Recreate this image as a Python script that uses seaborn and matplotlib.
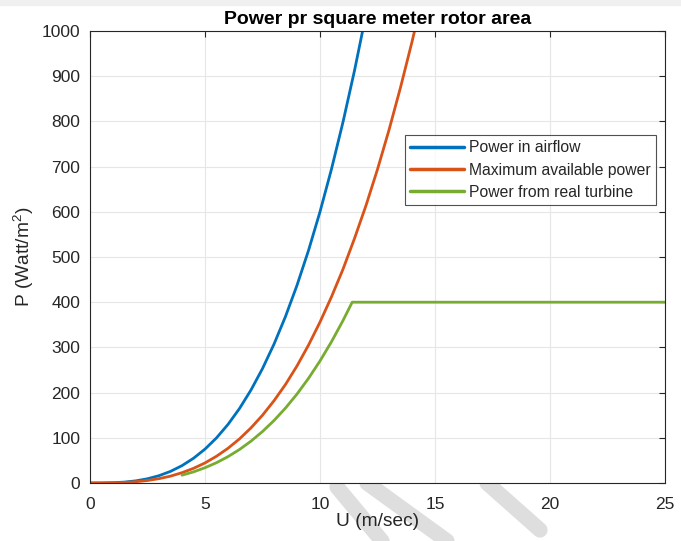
import numpy as np
import pandas as pd
import matplotlib
matplotlib.use("Agg")
import matplotlib.pyplot as plt
import seaborn as sns
from matplotlib.lines import Line2D
from matplotlib.patches import Rectangle

# values
u_air = [0, 0.5, 1, 1.5, 2, 2.5, 3, 3.5, 4, 4.5, 5, 5.5, 6, 6.5, 7, 7.5, 8,
         8.5, 9, 9.5, 10, 10.5, 11, 11.5, 12]
p_air = [0, 0.075, 0.6, 2.0, 4.8, 9.4, 16.2, 25.7, 38.4, 54.7, 75, 99.8, 129.6,
         164.8, 205.8, 253.1, 307.2, 368.4, 437.4, 514.4, 600, 694.6, 798.6,
         912.4, 1036.8]

u_max = [0, 0.5, 1, 1.5, 2, 2.5, 3, 3.5, 4, 4.5, 5, 5.5, 6, 6.5, 7, 7.5, 8,
         8.5, 9, 9.5, 10, 10.5, 11, 11.5, 12, 12.5, 13, 13.5, 14, 14.5]
p_max = [0, 0.04, 0.36, 1.2, 2.8, 5.6, 9.6, 15.2, 22.8, 32.4, 44.4, 59.2, 76.8,
         97.6, 122, 150, 182, 218, 259, 305, 356, 412, 473, 541, 614, 694,
         781, 875, 976, 1084]

u_real = [4, 4.5, 5, 5.5, 6, 6.5, 7, 7.5, 8, 8.5, 9, 9.5, 10, 10.5, 11, 11.4, 25]
p_real = [17.3, 24.6, 33.8, 44.9, 58.3, 74.1, 92.6, 113.9, 138.2, 165.8, 196.8,
          231.5, 270, 312.6, 359.4, 400, 400]

labels = ["Power in airflow", "Maximum available power", "Power from real turbine"]
colors = ["#0072BD", "#D95319", "#77AC30"]

df = pd.concat([
    pd.DataFrame({"U": u_air, "P": p_air, "series": labels[0]}),
    pd.DataFrame({"U": u_max, "P": p_max, "series": labels[1]}),
    pd.DataFrame({"U": u_real, "P": p_real, "series": labels[2]}),
], ignore_index=True)

sns.set_theme(style="whitegrid")
plt.rcParams["font.family"] = ["Liberation Sans", "DejaVu Sans"]
plt.rcParams["mathtext.default"] = "regular"

fig = plt.figure(figsize=(6.81, 5.41), dpi=100)
fig.patch.set_facecolor("white")
fig.patches.append(Rectangle((0, 0.991), 1, 0.009, transform=fig.transFigure,
                             color="#f0f0f0", zorder=0))

# faint watermark strokes in the lower margin
for (x0, y0, x1, y1) in [(337, 487, 382, 541), (367, 483, 447, 541), (487, 483, 540, 530)]:
    fig.add_artist(Line2D([x0 / 681, x1 / 681], [1 - y0 / 541, 1 - y1 / 541],
                          transform=fig.transFigure, color="#dedede", lw=11,
                          solid_capstyle="round", zorder=0))

ax = fig.add_axes([90 / 681, 58 / 541, 575 / 681, 452 / 541])
sns.lineplot(data=df, x="U", y="P", hue="series", palette=colors, sort=False,
             linewidth=2.0, ax=ax, estimator=None)

ax.set_xlim(0, 25)
ax.set_ylim(0, 1000)
ax.set_xticks(np.arange(0, 26, 5))
ax.set_yticks(np.arange(0, 1001, 100))
ax.grid(True, color="#e6e6e6", linewidth=0.8)
for s in ax.spines.values():
    s.set_color("#262626")
    s.set_linewidth(0.8)
ax.tick_params(direction="in", length=4, width=0.8, color="#262626",
               top=True, right=True, labelsize=12.5, labelcolor="#262626")
ax.tick_params(axis="x", pad=10)
ax.tick_params(axis="y", pad=7)

ax.set_title("Power pr square meter rotor area", fontsize=14, fontweight="bold",
             color="black", pad=5)
ax.set_xlabel("U (m/sec)", fontsize=13.8, color="#262626", labelpad=1)
ax.set_ylabel("P (Watt/m$^2$)", fontsize=13.8, color="#262626", labelpad=4)

leg = ax.legend(loc="upper left", bbox_to_anchor=((405 - 90) / 575, (483 - 135) / 452),
                fontsize=11.3, frameon=True, fancybox=False, handlelength=3.4,
                borderpad=0.35, labelspacing=0.45, handletextpad=0.3, borderaxespad=0)
leg.get_frame().set_edgecolor("#262626")
leg.get_frame().set_linewidth(0.8)
for line in leg.get_lines():
    line.set_linewidth(2.5)

fig.savefig("out.png", dpi=100)
